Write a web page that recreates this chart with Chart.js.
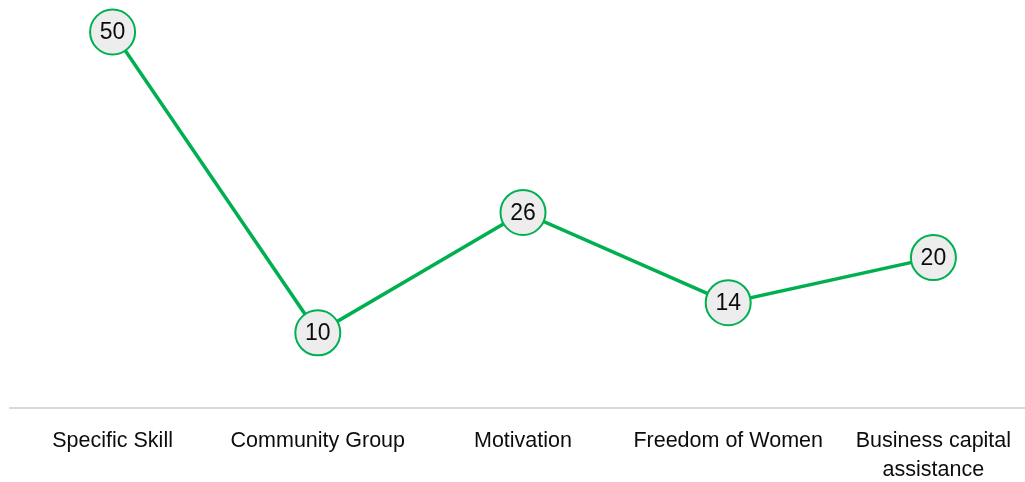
<!DOCTYPE html>
<html>
<head>
<meta charset="utf-8">
<script src="https://cdn.jsdelivr.net/npm/chart.js@4"></script>
<style>
  html, body { margin: 0; padding: 0; overflow: hidden; background: #ffffff; }
  #wrap { width: 1036px; height: 504px; position: relative; }
</style>
</head>
<body>
<div id="wrap"><canvas id="chart"></canvas></div>
<script>
// chart values
var categories = ['Specific Skill', 'Community Group', 'Motivation', 'Freedom of Women', ['Business capital', 'assistance']];
var values = [50, 10, 26, 14, 20];

var green = '#00b050';
var fontFamily = '"Liberation Sans", Arial, sans-serif';

// draws the value inside each point circle
var pointLabels = {
    id: 'pointLabels',
    afterDatasetsDraw: function (chart) {
        var ctx = chart.ctx;
        var meta = chart.getDatasetMeta(0);
        ctx.save();
        ctx.font = '23px ' + fontFamily;
        ctx.fillStyle = '#0d0d0d';
        ctx.textAlign = 'center';
        ctx.textBaseline = 'middle';
        meta.data.forEach(function (pt, i) {
            ctx.fillText(String(values[i]), pt.x, pt.y + 1);
        });
        ctx.restore();
    }
};

var chart = new Chart(document.getElementById('chart'), {
    type: 'line',
    data: {
        labels: categories,
        datasets: [{
            data: values,
            borderColor: green,
            borderWidth: 3.5,
            pointRadius: 22.5,
            pointHoverRadius: 22.5,
            pointBackgroundColor: '#ededed',
            pointBorderColor: green,
            pointBorderWidth: 2,
            tension: 0,
            clip: false
        }]
    },
    options: {
        responsive: true,
        maintainAspectRatio: false,
        animation: false,
        layout: {
            autoPadding: false,
            padding: { left: 10, right: 0, top: 32, bottom: 0 }
        },
        scales: {
            x: {
                offset: true,
                grid: { display: false, drawTicks: false },
                border: { display: true, color: '#d9d9d9', width: 2 },
                ticks: {
                    color: '#0d0d0d',
                    padding: 19,
                    autoSkip: false,
                    maxRotation: 0,
                    font: { family: fontFamily, size: 21.5, lineHeight: '29px' }
                }
            },
            y: {
                display: false,
                min: 0,
                max: 50
            }
        },
        plugins: {
            legend: { display: false },
            tooltip: { enabled: false }
        }
    },
    plugins: [pointLabels]
});
</script>
</body>
</html>
